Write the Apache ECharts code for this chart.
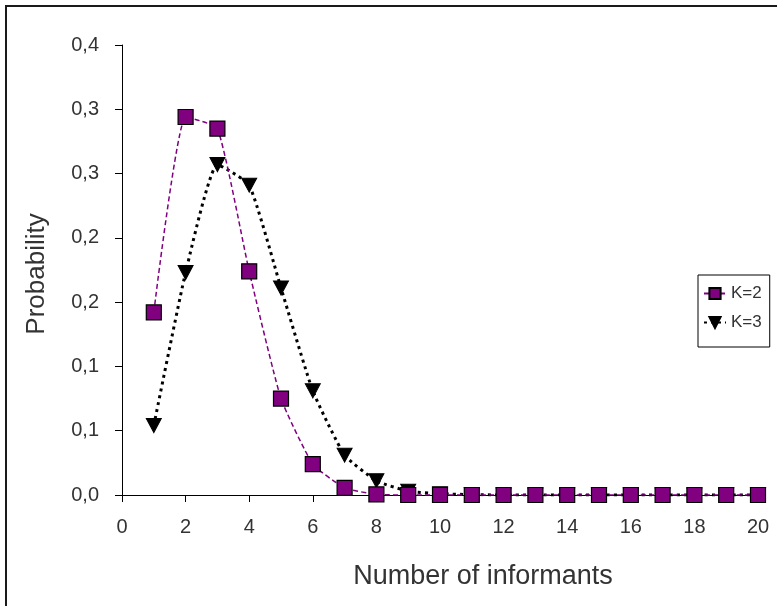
<!DOCTYPE html>
<html>
<head>
<meta charset="utf-8">
<script src="https://cdn.jsdelivr.net/npm/echarts@6/dist/echarts.min.js"></script>
<style>
  html, body { margin: 0; padding: 0; background: #fff; }
  #frame { position: absolute; left: 5px; top: 5px; width: 772px; height: 601px;
           border-top: 2px solid #1a1a1a; border-left: 2px solid #1a1a1a; box-sizing: border-box; }
  #chart { position: absolute; left: 0; top: 0; width: 777px; height: 606px; }
</style>
</head>
<body>
<div id="frame"></div>
<div id="chart"></div>
<script>
const informants = [1,2,3,4,5,6,7,8,9,10,11,12,13,14,15,16,17,18,19,20];
const k2Values = [0.142,0.294,0.285,0.174,0.075,0.024,0.0055,0.0005,0,0,0,0,0,0,0,0,0,0,0,0];
const k3Values = [0.054,0.173,0.257,0.241,0.161,0.081,0.031,0.011,0.003,0.001,0.0003,0,0,0,0,0,0,0,0,0];
const seriesNames = ['K=2','K=3'];

const chart = echarts.init(document.getElementById('chart'), null, {renderer: 'canvas'});
const font = '"Liberation Sans", Arial, Helvetica, sans-serif';

function pairs(vals) { return informants.map((x, i) => [x, vals[i]]); }

chart.setOption({
  animation: false,
  backgroundColor: 'transparent',
  grid: { left: 122, right: 19, top: 45, bottom: 111, containLabel: false },
  legend: {
    data: seriesNames,
    orient: 'vertical',
    left: 698, top: 275,
    borderColor: '#000', borderWidth: 1,
    padding: [10, 8, 16, 5],
    itemGap: 12, itemWidth: 22, itemHeight: 14,
    textStyle: { fontFamily: font, fontSize: 17, color: '#333' }
  },
  xAxis: {
    type: 'value', min: 0, max: 20, interval: 2,
    name: 'Number of informants', nameLocation: 'middle', nameGap: 68,
    nameTextStyle: { fontFamily: font, fontSize: 27, color: '#333', padding: [0, 0, 0, 86] },
    axisLine: { show: true, lineStyle: { color: '#000', width: 1 } },
    axisTick: { show: true, length: 7, lineStyle: { color: '#000' } },
    axisLabel: { fontFamily: font, fontSize: 20, color: '#333', margin: 22 },
    splitLine: { show: false }
  },
  yAxis: {
    type: 'value', min: 0, max: 0.35, interval: 0.05,
    name: 'Probability', nameLocation: 'middle', nameGap: 72, nameRotate: 90,
    nameTextStyle: { fontFamily: font, fontSize: 26, color: '#333', padding: [0, 8, 0, 0] },
    axisLine: { show: true, lineStyle: { color: '#000', width: 1 } },
    axisTick: { show: true, length: 7, lineStyle: { color: '#000' } },
    axisLabel: {
      fontFamily: font, fontSize: 20, color: '#333', margin: 23,
      formatter: v => (Math.round(v * 10 + 1e-9) / 10).toFixed(1).replace('.', ',')
    },
    splitLine: { show: false }
  },
  series: [
    {
      name: 'K=3', type: 'line', data: pairs(k3Values), z: 2,
      smooth: 0.15,
      symbol: 'triangle', symbolRotate: 180, symbolSize: [15, 14],
      itemStyle: { color: '#000', borderColor: '#000', borderWidth: 1 },
      lineStyle: { color: '#000', width: 3, type: [3, 4] }
    },
    {
      name: 'K=2', type: 'line', data: pairs(k2Values), z: 3,
      smooth: 0.15,
      symbol: 'rect', symbolSize: 15,
      itemStyle: { color: '#800080', borderColor: '#000', borderWidth: 1.2 },
      lineStyle: { color: '#800080', width: 1.5, type: [5, 3] }
    }
  ]
});
</script>
</body>
</html>
